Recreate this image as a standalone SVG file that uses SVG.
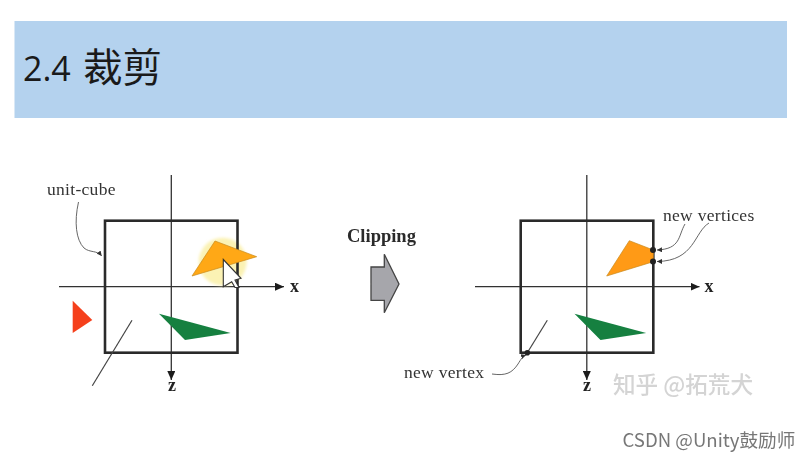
<svg xmlns="http://www.w3.org/2000/svg" width="812" height="460" viewBox="0 0 812 460">
<defs>
<filter id="soft" x="-5%" y="-5%" width="110%" height="110%"><feGaussianBlur stdDeviation="0.45"/></filter>
<filter id="glow" x="-30%" y="-30%" width="160%" height="160%"><feGaussianBlur stdDeviation="1.5"/></filter>
<marker id="ah" markerUnits="userSpaceOnUse" markerWidth="10" markerHeight="8" refX="9" refY="4" orient="auto"><path d="M0 0L9 4L0 8Z" fill="#1c1c1c"/></marker>
<marker id="sh" markerUnits="userSpaceOnUse" markerWidth="6" markerHeight="5" refX="5" refY="2.5" orient="auto"><path d="M0 0L5 2.5L0 5Z" fill="#333"/></marker>
</defs>
<style>
.serif{font-family:"Liberation Serif","Times New Roman",serif;fill:#333}
.lbl{font-size:17.5px;letter-spacing:.3px}
.ax{font-size:18px;font-weight:700;fill:#222}
.box{fill:none;stroke:#2b2b2b;stroke-width:2.6}
.axis{fill:none;stroke:#333;stroke-width:1.3}
.thin{fill:none;stroke:#555;stroke-width:.9}
.seg{fill:none;stroke:#444;stroke-width:1.2}
.dot{fill:#222}
.cjk{font-family:"Noto Sans CJK SC","Noto Sans",sans-serif}
</style>
<rect width="812" height="460" fill="#fff"/>
<g id="header">
<rect x="14.5" y="21" width="772.5" height="97" fill="#b4d2ee"/>
<text x="23" y="81" font-family="Open Sans,Noto Sans,sans-serif" font-size="34" fill="#1a1a1a">2.4</text>
<text x="83" y="82" class="cjk" font-size="39.5" fill="#1a1a1a">裁剪</text>
</g>
<g filter="url(#soft)">
<g id="connectors">
<path class="axis" d="M59 286.7H284" marker-end="url(#ah)"/>
<path class="axis" d="M171.3 175V380" marker-end="url(#ah)"/>
<path class="axis" d="M475 286.7H699.5" marker-end="url(#ah)"/>
<path class="axis" d="M586.8 175V380" marker-end="url(#ah)"/>
<path class="thin" d="M78.5 202C74 222 76 240 84 248C90 253 97 250 101.7 256" marker-end="url(#sh)"/>
<path class="thin" d="M492 374C506 376 512 373 518 364C521 359 523 356 526 355" marker-end="url(#sh)"/>
<path class="thin" d="M685 224C678 236 681 249 657 250" marker-end="url(#sh)"/>
<path class="thin" d="M709 223C694 232 695 261 657 261.5" marker-end="url(#sh)"/>
</g>
<g id="unit-cube-left">
<circle cx="222.7" cy="261.7" r="24" fill="#fbf2b4" filter="url(#glow)"/>
<rect class="box" x="105" y="220.7" width="132.5" height="132"/>
<text class="serif lbl" x="47" y="195">unit-cube</text>
</g>
<g id="triangle-orange-left"><path d="M215 241L256.7 256.7L192 276Z" fill="#ffa812" stroke="#c98a20" stroke-width=".7"/></g>
<g id="triangle-red"><path d="M72.7 300.7L92.3 320L72.7 333Z" fill="#f5401c"/></g>
<g id="triangle-green-left"><path d="M159 313.7L230.7 333L185 340Z" fill="#148040"/></g>
<g id="segment-left"><path class="seg" d="M132 320.3L92.3 385.7"/></g>
<g id="cursor"><path d="M223.3 259.5V286.7L231.7 281.7L235 287.5H239L235 280L241 278.3Z" fill="#fff" stroke="#333" stroke-width="1.1"/></g>
<g id="clipping-arrow">
<text x="347" y="242" font-family="Liberation Serif,serif" font-weight="700" font-size="18.5" fill="#2a2a2a">Clipping</text>
<path d="M371 267H384.3V254.3L399 284L384.3 312.7V300.3H371Z" fill="#a6a6ab" stroke="#444" stroke-width="1.3"/>
</g>
<g id="unit-cube-right">
<rect class="box" x="520.7" y="220.7" width="132.6" height="132"/>
</g>
<g id="polygon-orange-right"><path d="M629.3 240.7L653.3 250V261.7L606.7 276Z" fill="#ff9a12" stroke="#c98a20" stroke-width=".7"/></g>
<g id="triangle-green-right"><path d="M574.5 313.7L646.2 333L600.5 340Z" fill="#148040"/></g>
<g id="segment-right"><path class="seg" d="M547.3 320.3L527.3 352.7"/><circle class="dot" cx="527.3" cy="352.7" r="2.8"/></g>
<g id="new-vertices">
<circle class="dot" cx="653" cy="250" r="3"/>
<circle class="dot" cx="653" cy="261.5" r="3"/>
<text class="serif lbl" x="663" y="221">new vertices</text>
</g>
<g id="new-vertex"><text class="serif lbl" x="404" y="378">new vertex</text></g>
<text class="serif ax" x="290" y="292">x</text>
<text class="serif ax" x="168" y="391">z</text>
<text class="serif ax" x="704.5" y="292">x</text>
<text class="serif ax" x="583" y="391">z</text>
<g id="watermark">
<text x="613" y="393" class="cjk" font-size="22.6" fill="#d4d4d4" font-weight="500">知乎 @拓荒犬</text>
<text x="622.5" y="447" class="cjk" font-size="18.6" fill="#777">CSDN @Unity鼓励师</text>
</g>
</g>
</svg>
